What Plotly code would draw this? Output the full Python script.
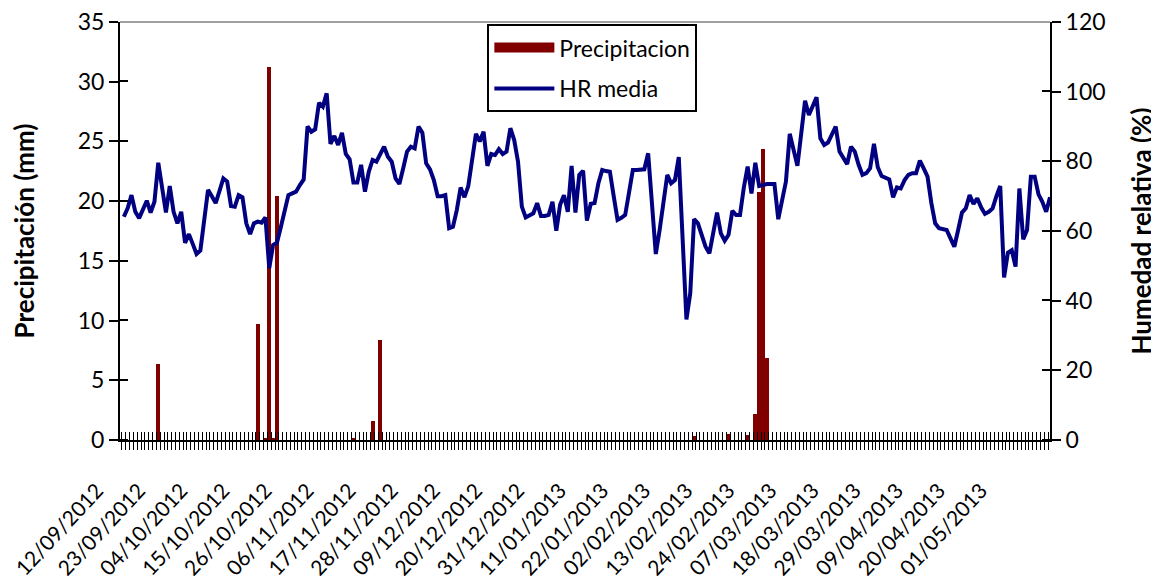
import pandas as pd
import plotly.graph_objects as go

# daily series, 12/09/2012 .. 12/05/2013
dates = pd.date_range("2012-09-12", "2013-05-12", freq="D")

tick_labels = [
    "12/09/2012", "23/09/2012", "04/10/2012", "15/10/2012", "26/10/2012", "06/11/2012",
    "17/11/2012", "28/11/2012", "09/12/2012", "20/12/2012", "31/12/2012", "11/01/2013",
    "22/01/2013", "02/02/2013", "13/02/2013", "24/02/2013", "07/03/2013", "18/03/2013",
    "29/03/2013", "09/04/2013", "20/04/2013", "01/05/2013",
]

# precipitation (mm), one value per day
precipitacion = [
    0, 0, 0, 0, 0, 0, 0, 0, 0, 6.4, 0, 0, 0, 0, 0, 0, 0, 0, 0, 0,            # 0-19
    0, 0, 0, 0, 0, 0, 0, 0, 0, 0, 0, 0, 0, 0, 0, 9.7, 0, 0.1, 31.2, 0.1,     # 20-39
    20.4, 0, 0, 0, 0, 0, 0, 0, 0, 0, 0, 0, 0, 0, 0, 0, 0, 0, 0, 0,           # 40-59
    0.1, 0, 0, 0, 0, 1.6, 0, 8.4, 0, 0, 0, 0, 0, 0, 0, 0, 0, 0, 0, 0,        # 60-79
    0, 0, 0, 0, 0, 0, 0, 0, 0, 0, 0, 0, 0, 0, 0, 0, 0, 0, 0, 0,              # 80-99
    0, 0, 0, 0, 0, 0, 0, 0, 0, 0, 0, 0, 0, 0, 0, 0, 0, 0, 0, 0,              # 100-119
    0, 0, 0, 0, 0, 0, 0, 0, 0, 0, 0, 0, 0, 0, 0, 0, 0, 0, 0, 0,              # 120-139
    0, 0, 0, 0, 0, 0, 0, 0, 0, 0.3, 0, 0, 0, 0, 0, 0, 0, 0, 0.5, 0,          # 140-159
    0, 0, 0, 0.4, 0, 2.2, 20.8, 24.4, 6.9, 0, 0, 0, 0, 0, 0, 0, 0, 0, 0, 0,  # 160-179
    0, 0, 0, 0, 0, 0, 0, 0, 0, 0, 0, 0, 0, 0, 0, 0, 0, 0, 0, 0,              # 180-199
    0, 0, 0, 0, 0, 0, 0, 0, 0, 0, 0, 0, 0, 0, 0, 0, 0, 0, 0, 0,              # 200-219
    0, 0, 0, 0, 0, 0, 0, 0, 0, 0, 0, 0, 0, 0, 0, 0, 0, 0, 0, 0,              # 220-239
    0, 0, 0,                                                                 # 240-242
]

# mean relative humidity (%)
hr_media = [
    64.1, 66.5, 70.3, 65.5, 63.7, 66.0, 68.7, 65.3, 68.4, 79.6,
    72.0, 65.3, 72.9, 65.5, 62.2, 65.5, 56.6, 59.1, 56.3, 53.4,
    54.4, 63.0, 71.8, 70.0, 68.0, 71.5, 75.1, 74.2, 67.2, 67.0,
    70.3, 69.7, 62.2, 59.1, 62.2, 62.7, 62.4, 63.9, 49.3, 56.0,
    56.6, 61.0, 65.5, 70.3, 70.8, 71.3, 73.2, 74.8, 90.0, 88.5,
    89.2, 96.8, 95.7, 99.5, 85.0, 87.3, 84.7, 88.2, 82.1, 80.6,
    73.9, 73.9, 79.0, 71.3, 77.0, 80.4, 79.9, 82.0, 84.2, 81.3,
    79.9, 75.1, 73.5, 78.0, 82.8, 84.2, 83.7, 90.0, 88.2, 79.4,
    77.7, 74.6, 70.0, 70.0, 70.3, 60.8, 61.2, 66.0, 72.5, 69.7,
    72.9, 80.4, 87.9, 85.7, 88.5, 78.7, 82.1, 81.8, 83.5, 82.1,
    82.8, 89.5, 86.1, 79.9, 67.0, 63.9, 64.5, 65.1, 68.0, 64.3,
    64.3, 64.6, 68.4, 60.1, 67.5, 70.3, 65.5, 78.7, 65.3, 76.1,
    77.3, 63.0, 67.8, 68.0, 73.7, 77.5, 77.2, 77.0, 70.0, 63.2,
    63.8, 64.6, 71.0, 77.5, 77.5, 77.6, 77.7, 82.3, 67.0, 53.4,
    60.3, 68.0, 76.1, 73.7, 74.6, 81.2, 59.3, 34.6, 42.1, 63.4,
    62.2, 58.5, 55.5, 53.6, 60.3, 65.3, 59.3, 57.2, 58.9, 65.8,
    64.6, 64.6, 72.5, 78.5, 70.8, 79.6, 72.9, 73.3, 73.5, 73.5,
    73.5, 63.4, 68.8, 74.2, 87.9, 83.0, 78.7, 88.0, 97.4, 93.3,
    96.0, 98.4, 86.6, 84.7, 85.4, 87.7, 90.0, 82.8, 80.9, 79.2,
    84.2, 82.8, 79.0, 76.1, 76.6, 78.0, 85.0, 78.3, 75.8, 75.4,
    74.8, 69.7, 72.5, 72.2, 74.6, 76.1, 76.6, 76.6, 80.2, 78.0,
    75.6, 68.0, 62.2, 60.8, 60.5, 60.3, 57.9, 55.5, 60.3, 65.3,
    66.5, 70.3, 67.8, 69.4, 66.8, 64.9, 65.5, 66.5, 70.0, 72.9,
    46.7, 53.8, 54.5, 49.8, 72.2, 57.6, 60.3, 75.6, 75.6, 70.5,
    68.4, 65.5, 69.7,
]

FONT = "Lato, 'Open Sans', sans-serif"
x_range = ["2012-09-11 00:00", "2013-05-12 00:00"]

# one tick mark between every pair of days, a date label every 11 days
day_edges = list(dates - pd.Timedelta(hours=12)) + [dates[-1] + pd.Timedelta(hours=12)]
edge_text = [""] * len(day_edges)
for k, lab in enumerate(tick_labels):
    edge_text[11 * k] = lab

fig = go.Figure()

# precipitation bars (left axis)
fig.add_trace(go.Bar(
    x=dates, y=precipitacion, name="Precipitacion",
    marker=dict(color="#800000", line=dict(width=0)),
    showlegend=False,
))
# relative humidity line (right axis)
fig.add_trace(go.Scatter(
    x=dates, y=hr_media, name="HR media", yaxis="y2",
    mode="lines", line=dict(color="#000080", width=4),
    legendgroup="b", legendrank=2,
))
# legend swatch for the bars (wide rectangle, as in the original)
fig.add_trace(go.Scatter(
    x=[None], y=[None], name="Precipitacion", mode="lines",
    line=dict(color="#800000", width=17), legendgroup="a", legendrank=1,
))

bare = dict(showgrid=False, zeroline=False, automargin=False)

# page body has an 8px margin, so the figure is drawn 8px smaller
fig.update_layout(
    width=1151, height=573,
    margin=dict(l=112, r=109, t=14, b=141),
    paper_bgcolor="white", plot_bgcolor="white",
    font=dict(family=FONT, size=22, color="black"),
    bargap=0,
    showlegend=True,
    legend=dict(
        x=0.395, y=0.995, xanchor="left", yanchor="top",
        bordercolor="black", borderwidth=2, bgcolor="white",
        font=dict(size=23), tracegroupgap=8, itemwidth=60,
    ),
    xaxis=dict(
        type="date", range=x_range,
        tickvals=day_edges, ticktext=edge_text, tickangle=-47,
        ticklabelshift=-25, ticklabelstandoff=20, ticklabeloverflow="allow",
        ticks="outside", ticklen=8, tickwidth=1, tickcolor="black",
        minor=dict(ticks="inside", tick0="2012-09-11 12:05", dtick=86400000,
                   ticklen=8, tickwidth=1, tickcolor="black", showgrid=False),
        tickfont=dict(size=21),
        showline=True, linecolor="black", linewidth=2, **bare,
    ),
    yaxis=dict(
        title=dict(text="<b>Precipitación (mm)</b>", standoff=36),
        range=[0, 35], dtick=5, ticks="outside", ticklen=9, tickwidth=2,
        tickcolor="black",
        minor=dict(ticks="inside", tick0=0.02, dtick=5, ticklen=8, tickwidth=2,
                   tickcolor="black", showgrid=False),
        tickfont=dict(size=23), ticklabeloverflow="allow",
        showline=True, linecolor="black", linewidth=2, **bare,
    ),
    yaxis2=dict(
        title=dict(text="<b>Humedad relativa (%)</b>", standoff=28),
        range=[0, 120], dtick=20, ticks="outside", ticklen=9, tickwidth=2,
        tickcolor="black",
        minor=dict(ticks="inside", tick0=0.05, dtick=20, ticklen=8, tickwidth=2,
                   tickcolor="black", showgrid=False),
        tickfont=dict(size=23), ticklabeloverflow="allow",
        overlaying="y", side="right", anchor="x",
        showline=True, linecolor="black", linewidth=2, **bare,
    ),
    shapes=[dict(type="line", xref="paper", yref="paper", x0=0, x1=1, y0=1, y1=1,
                 line=dict(color="#a0a0a0", width=2))],
)

fig.write_html("out.html")
